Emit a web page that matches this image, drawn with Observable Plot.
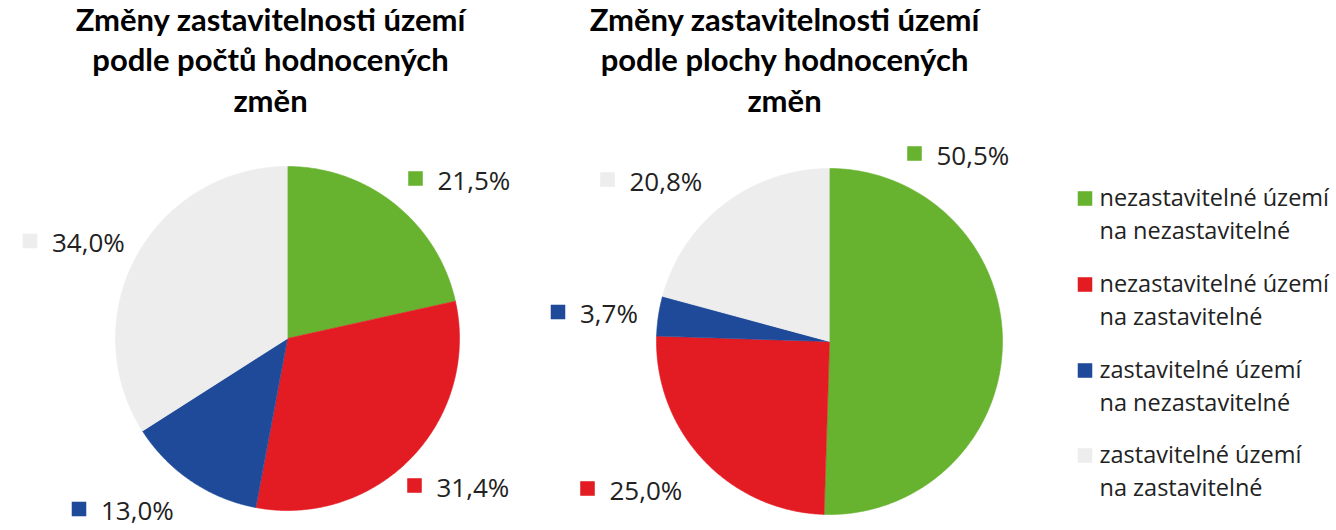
<!DOCTYPE html>
<html>
<head>
<meta charset="utf-8">
<script src="https://cdn.jsdelivr.net/npm/d3@7"></script>
<script src="https://cdn.jsdelivr.net/npm/@observablehq/plot@0.6"></script>
<style>
  html, body { margin: 0; padding: 0; background: #fff; }
  #chart { width: 1336px; height: 530px; }
</style>
</head>
<body>
<div id="chart"></div>
<script>
// ---- data ----
const categories = [
  "nezastavitelné území na nezastavitelné",
  "nezastavitelné území na zastavitelné",
  "zastavitelné území na nezastavitelné",
  "zastavitelné území na zastavitelné"
];
const legendLines = [
  ["nezastavitelné území", "na nezastavitelné"],
  ["nezastavitelné území", "na zastavitelné"],
  ["zastavitelné území", "na nezastavitelné"],
  ["zastavitelné území", "na zastavitelné"]
];
const colors = ["#67b22e", "#e31b23", "#1f4a9a", "#ededed"];
const countValues = [21.5, 31.4, 13.0, 34.0];
const areaValues = [50.5, 25.0, 3.7, 20.8];
const titleCount = "Změny zastavitelnosti území\npodle počtů hodnocených\nzměn";
const titleArea = "Změny zastavitelnosti území\npodle plochy hodnocených\nzměn";

// ---- layout (pixels) ----
const pies = [
  { values: countValues, title: titleCount, cx: 287, cy: 338, r: 172, tx: 270,
    labels: [[415, 178], [414, 485], [78.5, 508.5], [29.5, 240.5]] },
  { values: areaValues, title: titleArea, cx: 829, cy: 341, r: 173, tx: 784,
    labels: [[914, 153], [587, 488], [557.5, 311.5], [607, 179]] }
];
const legendX = 1084.5, legendTextX = 1099, legendBase = [205, 291, 377, 462], legendLineGap = 33;

const fmt = v => d3.format(".1f")(v).replace(".", ",") + "%";

// slice outlines computed from values
const slicePts = [];
const labelData = [];
pies.forEach((p, pi) => {
  const total = d3.sum(p.values);
  let cum = 0;
  p.values.forEach((v, i) => {
    const a0 = cum / total * 2 * Math.PI;
    cum += v;
    const a1 = cum / total * 2 * Math.PI;
    const id = pi + "-" + i;
    slicePts.push({ id, cat: categories[i], x: p.cx, y: p.cy });
    const n = Math.max(2, Math.ceil((a1 - a0) / (Math.PI / 360)));
    for (let k = 0; k <= n; k++) {
      const a = a0 + (a1 - a0) * k / n;
      slicePts.push({ id, cat: categories[i], x: p.cx + p.r * Math.sin(a), y: p.cy - p.r * Math.cos(a) });
    }
    const [sx, sy] = p.labels[i];
    labelData.push({ cat: categories[i], sx, sy, tx: sx + 22, ty: sy + 11, text: fmt(v) });
  });
});

const titleData = pies.map(p => ({ x: p.tx, y: 111, text: p.title }));
const legendData = categories.map((c, i) => ({
  cat: c, sx: legendX, sy: legendBase[i] - 7, tx: legendTextX, ty: legendBase[i] + legendLineGap,
  text: legendLines[i].join("\n")
}));

const textFont = "'Open Sans', 'Noto Sans', sans-serif";

const chart = Plot.plot({
  width: 1336,
  height: 530,
  margin: 0,
  x: { domain: [0, 1336], range: [0, 1336], axis: null },
  y: { domain: [0, 530], range: [0, 530], axis: null },
  color: { domain: categories, range: colors },
  marks: [
    Plot.line(slicePts, { x: "x", y: "y", z: "id", fill: "cat", stroke: "cat", strokeWidth: 0.6, curve: "linear" }),
    Plot.dot(labelData, { x: "sx", y: "sy", symbol: "square", r: 8.2, fill: "cat", stroke: null }),
    Plot.text(labelData, { x: "tx", y: "ty", text: "text", textAnchor: "start", lineAnchor: "bottom",
      fontSize: 26, fontFamily: textFont, fill: "#222" }),
    Plot.text(titleData, { x: "x", y: "y", text: "text", textAnchor: "middle", lineAnchor: "bottom",
      lineHeight: 1.3, fontSize: 31, fontWeight: "bold", fontFamily: "Lato, 'Open Sans', sans-serif", fill: "#000" }),
    Plot.dot(legendData, { x: "sx", y: "sy", symbol: "square", r: 8.2, fill: "cat", stroke: null }),
    Plot.text(legendData, { x: "tx", y: "ty", text: "text", textAnchor: "start", lineAnchor: "bottom",
      lineHeight: 1.4, fontSize: 23.5, fontFamily: textFont, fill: "#222" })
  ]
});
document.getElementById("chart").appendChild(chart);
</script>
</body>
</html>
